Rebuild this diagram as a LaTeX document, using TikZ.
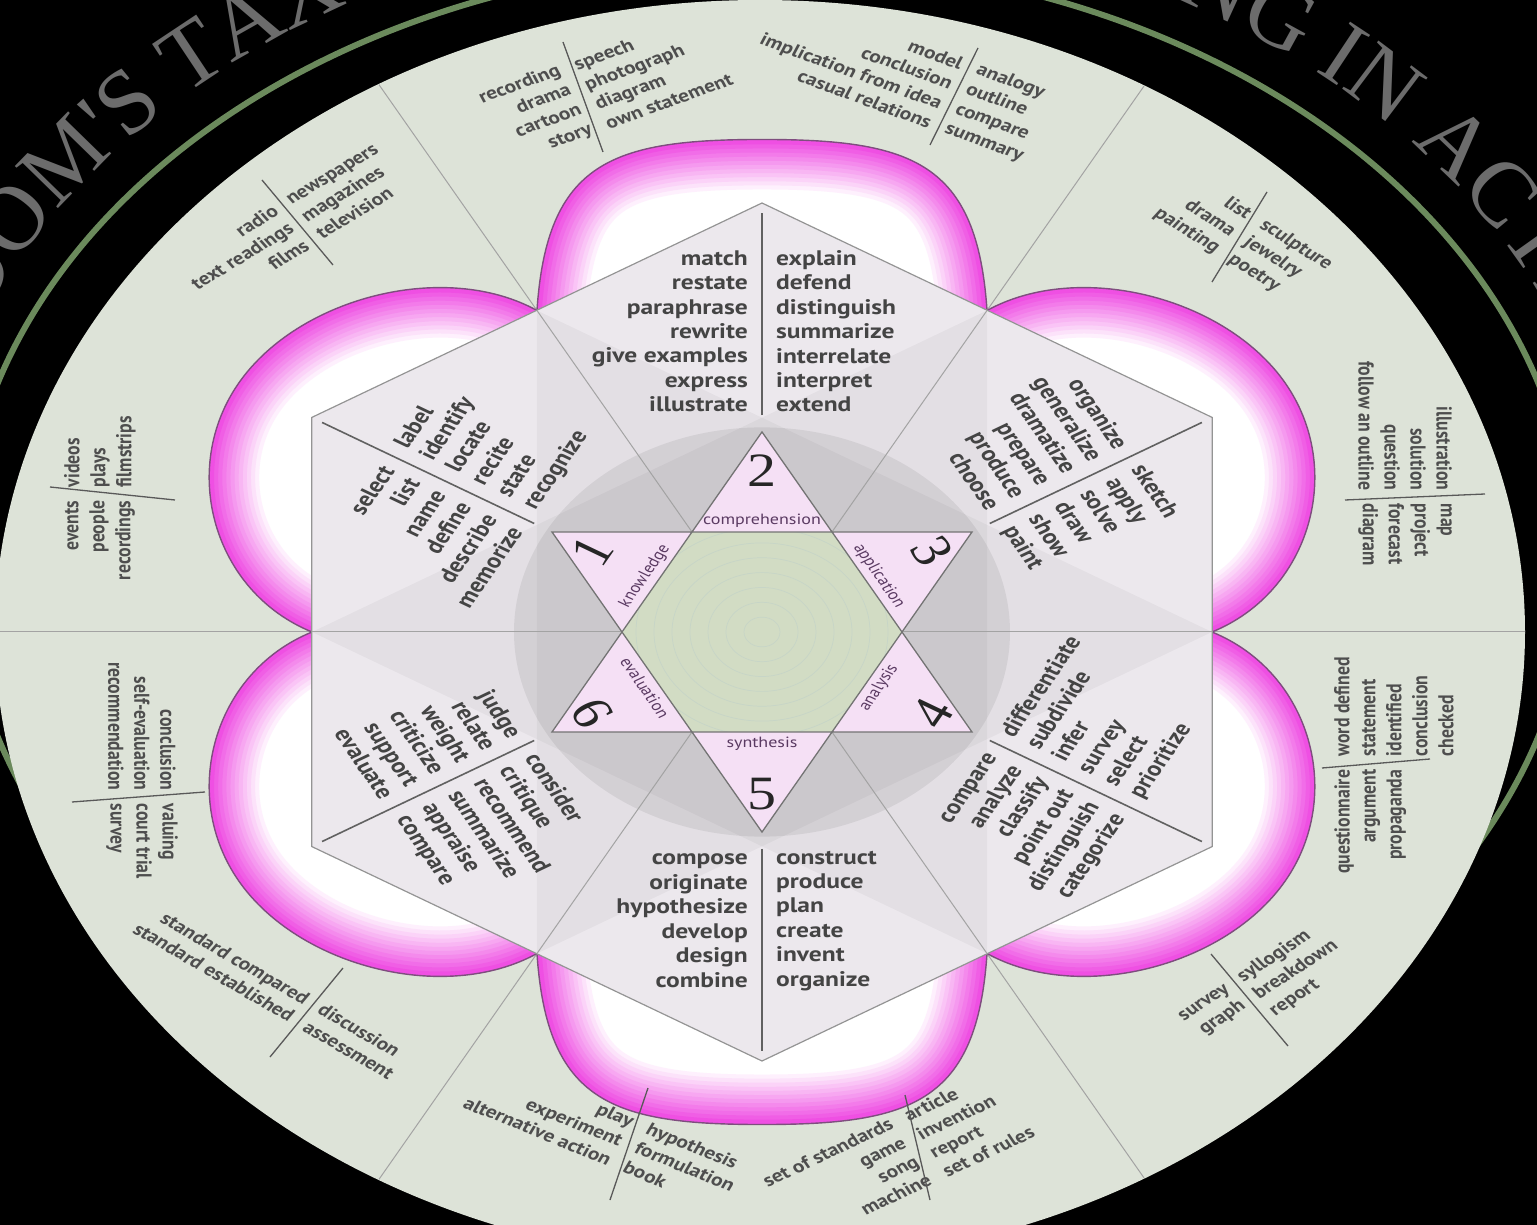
\documentclass[tikz,border=0pt]{standalone}
\usepackage{fontspec}
\usetikzlibrary{calc,decorations.text}
\newfontfamily\ptsans{PT Sans}
\newfontfamily\titleserif{Liberation Serif}
\definecolor{bgfield}{HTML}{DDE3D8}
\definecolor{ringgreen}{HTML}{6B8A5C}
\definecolor{titlegray}{HTML}{6C6C6C}
\definecolor{hexfill}{HTML}{ECE8ED}
\definecolor{innergreen}{HTML}{D2DCC4}
\definecolor{tripink}{HTML}{F5E0F5}
\definecolor{petalpink}{HTML}{EE48E2}
\definecolor{petalline}{HTML}{7E4E7E}
\definecolor{kitetext}{HTML}{444444}
\definecolor{outtext}{HTML}{4E4E4E}
\definecolor{labeltext}{HTML}{5A3A62}

\tikzset{
 roundpetal/.style={insert path={(-225,390) .. controls (-232,500) and (-120,604) .. (0,604) .. controls (120,604) and (232,500) .. (225,390)}},
 squarepetal/.style={insert path={(-225,390) .. controls (-215,570) and (-150,597) .. (0,597) .. controls (150,597) and (215,570) .. (225,390)}},
 radline/.style={draw=black!36, line width=1},
 divline/.style={draw=black!65, line width=1.3},
 kitediv/.style={draw=black!62, line width=1.6},
 hexbox/.style={draw=black!42, line width=1.2},
 tri/.style={fill=tripink, draw=black!55, line width=1.3},
 kitetxt/.style={font=\ptsans\bfseries\fontsize{25.5}{29.6}\selectfont, text=kitetext, inner sep=0pt},
 outtxt/.style={font=\ptsans\bfseries\fontsize{21.5}{26}\selectfont, text=outtext, inner sep=0pt},
 numtxt/.style={font=\titleserif\fontsize{58}{62}\selectfont, text=black!85, inner sep=0pt},
 labtxt/.style={font=\ptsans\fontsize{18}{20}\selectfont, text=labeltext, inner sep=0pt},
 petalborder/.style={draw=petalline, line width=1.4},
}

\newcommand{\drawpetal}[2]{%
 \begin{scope}[rotate=#1]
  \begin{scope}
   \clip[#2] -- (0,300) -- cycle;
   \fill[white] (-330,250) rectangle (330,700);
   \foreach \k in {0,...,11}{%
     \pgfmathsetmacro{\glowwidth}{100-8.2*\k}%
     \pgfmathsetmacro{\glowpct}{8+8*\k}%
     \draw[line width=\glowwidth, draw=petalpink!\glowpct!white, #2];
   }
  \end{scope}
  \draw[petalborder, #2];
 \end{scope}}

\newcommand{\kite}[6]{%
 \coordinate (#1) at (#2:#3);
 \node[kitetxt, rotate=#4, anchor=east, align=right] (#1-l) at ($(#2:#3)+(#4:-14)$) {#5};
 \node[kitetxt, rotate=#4, anchor=west, align=left] (#1-r) at ($(#2:#3)+(#4:14)$) {#6};}

\newcommand{\ogroup}[6]{%
 \coordinate (#1) at (#2,#3);
 \node[outtxt, rotate=#4, anchor=east, align=right] (#1-l) at ($(#2,#3)+(#4:-8)$) {#5};
 \node[outtxt, rotate=#4, anchor=west, align=left] (#1-r) at ($(#2,#3)+(#4:8)$) {#6};}

\begin{document}
\begin{tikzpicture}[x=1pt,y=1pt]
\useasboundingbox (-762,-593) rectangle (775,632);
\fill[black] (-762,-593) rectangle (775,632);

% green ring and title
\draw[ringgreen, line width=6] (6,72) ellipse [x radius=806, y radius=599];
\path[decorate, decoration={text along path, text align=center,
  text={|\titleserif\fontsize{92}{98}\selectfont\color{titlegray}|BLOOM'S TAXONOMY OF LEARNING IN ACTION}}]
  (-842,72) arc[start angle=180, end angle=0, x radius=848, y radius=640];

% light field
\fill[bgfield] (-2,0) ellipse [x radius=765, y radius=632];

\begin{scope}[yscale=0.825, every node/.append style={transform shape}]
 % outer radial lines
 \begin{scope}
  \clip (-2,0) circle (765);
  \foreach \a in {0,60,...,300} \draw[radline] (\a:450) -- (\a:800);
 \end{scope}
 % petals
 \drawpetal{0}{squarepetal}
 \drawpetal{180}{squarepetal}
 \drawpetal{-60}{roundpetal}
 \drawpetal{60}{roundpetal}
 \drawpetal{120}{roundpetal}
 \drawpetal{240}{roundpetal}
 % big hexagon
 \fill[hexfill] (30:520) -- (90:520) -- (150:520) -- (210:520) -- (270:520) -- (330:520) -- cycle;
 \fill[black, fill opacity=0.035] (0:450) -- (120:450) -- (240:450) -- cycle;
 \fill[black, fill opacity=0.035] (60:450) -- (180:450) -- (300:450) -- cycle;
 \fill[black, fill opacity=0.065] (0,0) circle (248);
 \draw[hexbox] (30:520) -- (90:520) -- (150:520) -- (210:520) -- (270:520) -- (330:520) -- cycle;
 % inner radial lines and kite dividers
 \foreach \a in {0,60,...,300} \draw[radline] (\a:140) -- (\a:450);
 \foreach \a in {30,90,...,330} \draw[kitediv] (\a:263) -- (\a:508);
 % inner green hexagon with rings
 \fill[innergreen] (0:140) -- (60:140) -- (120:140) -- (180:140) -- (240:140) -- (300:140) -- cycle;
 \begin{scope}
  \clip (0:140) -- (60:140) -- (120:140) -- (180:140) -- (240:140) -- (300:140) -- cycle;
  \foreach \r in {18,36,...,126} \draw[green!25!black!22, line width=0.7] (0,0) circle (\r);
 \end{scope}
 % star triangles with numbers and labels
 \foreach \t/\r/\n/\lab in {90/0/2/comprehension, 30/-60/3/application, -30/60/4/analysis,
                            -90/0/5/synthesis, -150/-60/6/evaluation, 150/60/1/knowledge}{
   \draw[tri] (\t:242.5) -- (\t+30:140) -- (\t-30:140) -- cycle;
   \node[numtxt, rotate=\r] (num\n) at (\t:196) {\n};
   \node[labtxt, rotate=\r] (lab\n) at (\t:135) {\lab};
 }
 % kites
 \kite{ktop}{90}{364.5}{0}{match\\restate\\paraphrase\\rewrite\\give examples\\express\\illustrate}{explain\\defend\\distinguish\\summarize\\interrelate\\interpret\\extend}
 \kite{kul}{150}{350}{60}{select\\list\\name\\define\\describe\\memorize}{label\\identify\\locate\\recite\\state\\recognize}
 \kite{kur}{30}{350}{-60}{organize\\generalize\\dramatize\\prepare\\produce\\choose}{sketch\\apply\\solve\\draw\\show\\paint}
 \kite{klr}{-30}{350}{60}{compare\\analyze\\classify\\point out\\distinguish\\categorize}{differentiate\\subdivide\\infer\\survey\\select\\prioritize}
 \kite{kll}{210}{350}{-60}{judge\\relate\\weight\\criticize\\support\\evaluate}{consider\\critique\\recommend\\summarize\\appraise\\compare}
 \kite{kbot}{270}{350}{0}{compose\\originate\\hypothesize\\develop\\design\\combine}{construct\\produce\\plan\\create\\invent\\organize}
 % outer groups
 \ogroup{g1}{-464.5}{496.4}{36.1}{radio\\text readings\\films}{newspapers\\magazines\\television}
 \ogroup{g2}{-179}{648.5}{23.8}{recording\\drama\\cartoon\\story}{speech\\photograph\\diagram\\own statement}
 \ogroup{g3}{192}{649.1}{-23.8}{model\\conclusion\\implication from idea\\casual relations}{analogy\\outline\\compare\\summary}
 \ogroup{g4}{477.5}{478.8}{-37.1}{list\\drama\\painting}{sculpture\\jewelry\\poetry}
 \ogroup{g5}{643}{163.6}{-90}{illustration\\solution\\question\\follow an outline}{map\\project\\forecast\\diagram}
 \ogroup{g6}{632}{-158.8}{90}{questionnaire\\argument\\propaganda\\~\\~}{word defined\\statement\\identified\\conclusion\\checked}
 \ogroup{g7}{487.5}{-446.1}{38.2}{survey\\graph\\~}{syllogism\\breakdown\\report}
 \ogroup{g8}{155.5}{-624.8}{29.5}{set of standards\\game\\song\\machine}{article\\invention\\report\\set of rules}
 \ogroup{g9}{-133}{-620.6}{-26.1}{play\\experiment\\alternative action}{hypothesis\\formulation\\book}
 \ogroup{g10}{-455.5}{-461.2}{-35}{standard compared\\standard established}{discussion\\assessment}
 \ogroup{g11}{-620}{-200}{-90}{conclusion\\self-evaluation\\recommendation}{valuing\\court trial\\survey}
 \ogroup{g12}{-662}{167.3}{90}{events\\people\\recordings}{videos\\plays\\filmstrips}
\end{scope}

% outer group dividers
\draw[divline] (-500,452) -- (-429,367);
\draw[divline] (-199,590) -- (-159,480);
\draw[divline] (216,584) -- (168,487);
\draw[divline] (505,440) -- (450,350);
\draw[divline] (583,132) -- (723,138);
\draw[divline] (560,-136) -- (668,-127);
\draw[divline] (449,-322) -- (526,-414);
\draw[divline] (143,-463) -- (168,-568);
\draw[divline] (-114,-456) -- (-152,-568);
\draw[divline] (-419,-336) -- (-492,-425);
\draw[divline] (-690,-170) -- (-557,-160);
\draw[divline] (-712,145) -- (-587,132);
\end{tikzpicture}
\end{document}
